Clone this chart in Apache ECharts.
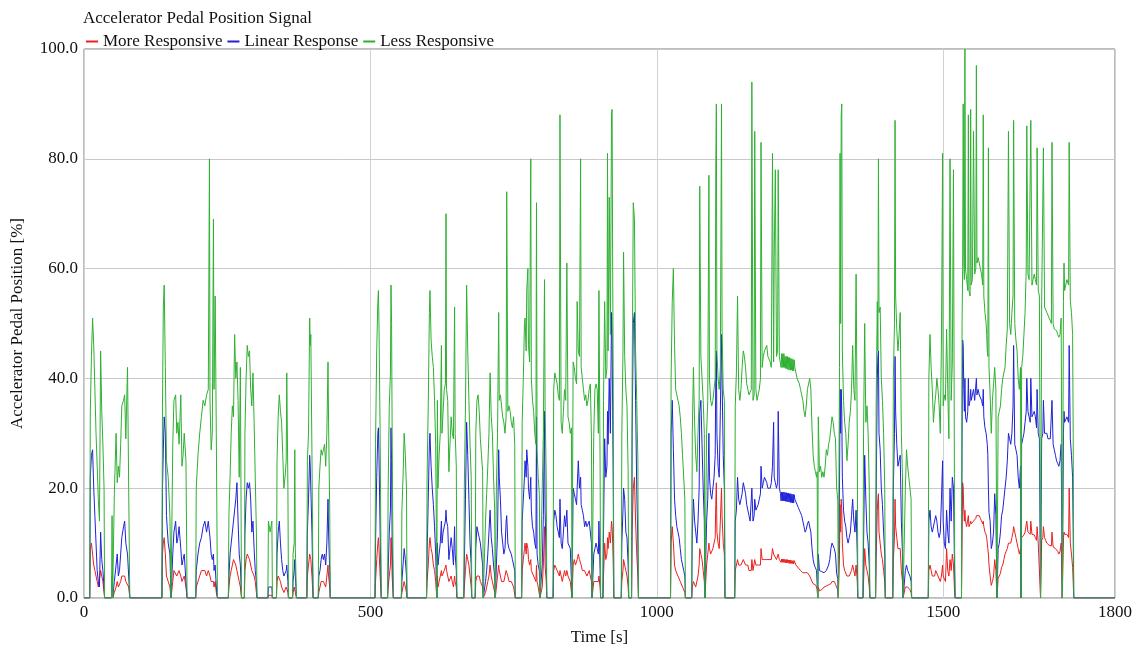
<!DOCTYPE html>
<html>
<head>
<meta charset="utf-8">
<title>Accelerator Pedal Position Signal</title>
<script src="https://cdn.jsdelivr.net/npm/echarts@6/dist/echarts.min.js"></script>
<style>
  html, body { margin: 0; padding: 0; background: #fff; }
  #chart { width: 1139px; height: 653px; }
</style>
</head>
<body>
<div id="chart"></div>
<script>
// time stamps [s], one line per pedal burst
const timeS = [
  0,
  10, 11, 13, 15, 17, 19, 21, 23, 25, 27, 29, 31, 33, 35, 36,
  48, 49, 50, 52, 53, 56, 58, 60, 62, 64, 66, 69, 71, 73, 76, 78, 80,
  136, 137, 138.5, 140, 142, 144, 147, 150, 152,
  154, 155, 157, 160, 162, 164, 166, 169, 171, 173, 175, 178, 180,
  195, 196, 199, 202, 205, 208, 211, 214, 217, 219, 220, 222, 224, 226, 227, 229, 231, 233,
  252, 253, 255, 257, 259, 261, 263, 265, 267, 269, 271, 273, 275,
  280, 281, 283, 285, 287, 289, 291, 293, 295, 297, 299, 301, 302,
  321, 322, 325, 328, 329,
  336, 337, 339, 341, 343, 345, 347, 349, 351, 353, 354, 356, 357,
  364, 365, 367, 368, 369, 371,
  389, 390, 392, 394, 395, 396, 398, 400,
  409, 410, 412, 414, 416, 418, 420, 422, 424, 426, 427, 429, 430,
  508, 509, 511, 513, 514, 515, 517, 519,
  530, 531, 533, 535, 536, 537, 538, 540,
  554, 555, 557, 559, 561, 563, 564,
  598, 599, 601, 603, 604, 606, 608, 610, 612, 614, 616,
  617, 618, 620, 622, 624, 625, 627, 629, 631, 632, 633, 635, 637, 639, 641, 643, 645, 647, 648, 650, 651,
  663, 664, 666, 668, 670, 672, 674, 676, 677,
  683, 684, 686, 688, 690, 692, 694, 696, 697,
  700, 701, 703, 705, 707, 709, 711, 713, 715, 717, 718,
  719, 720, 722, 724, 725, 727, 729, 731, 733, 735, 737, 738, 740, 742, 744, 746, 748, 750, 752, 753,
  764, 765, 767, 769, 770, 772, 773, 775, 776, 778, 780, 781, 783, 785, 787, 789, 790, 791, 793, 795, 796,
  799, 800, 802, 804, 805, 807, 808,
  819, 820, 822, 824, 826, 828, 830, 831, 833, 835, 837, 839, 841, 843, 845, 847, 849, 851, 852,
  853, 854, 856, 858, 860, 861, 863, 865, 867, 868, 870, 872, 874, 876, 878, 880, 882, 884, 886, 887,
  889, 890, 892, 894, 896, 898, 899, 901, 902,
  906, 907, 909, 911, 913, 914, 915, 917, 919, 921, 922, 923, 924, 925,
  938, 939, 941, 942, 944, 946, 948, 950, 951,
  956, 957, 959, 961, 963, 965, 967, 968,
  1024, 1025, 1027, 1029, 1031, 1033, 1035, 1037, 1039, 1041, 1043, 1045, 1047, 1049, 1050,
  1061, 1062, 1064, 1066, 1068, 1070, 1072, 1074, 1075, 1077, 1079, 1081, 1083, 1084,
  1086, 1087, 1089, 1091, 1092, 1094, 1096, 1098, 1100, 1102, 1103, 1104, 1105, 1107, 1109, 1111, 1113, 1114, 1116, 1118, 1119,
  1136, 1137, 1139, 1141, 1143, 1145, 1147, 1149, 1151, 1153, 1155, 1157, 1159, 1161, 1163, 1165, 1166, 1168, 1170, 1171, 1173, 1175, 1177, 1179, 1181, 1182, 1184, 1186, 1188, 1190, 1192, 1194, 1196, 1198, 1200, 1202, 1204, 1205, 1207, 1209, 1211, 1212, 1214,
  1216, 1217, 1218, 1219, 1220, 1221, 1222, 1223, 1224, 1225, 1226, 1227, 1228, 1229, 1230, 1231, 1232, 1233, 1234, 1235, 1236, 1237, 1238, 1239, 1240, 1241,
  1243, 1245, 1247, 1249, 1251, 1253, 1255, 1257, 1259, 1261, 1263, 1265, 1267, 1269, 1271, 1273, 1275, 1277, 1279, 1280, 1281, 1282, 1284, 1286, 1288, 1290, 1292, 1294, 1296, 1298, 1300, 1302, 1304, 1306, 1308, 1310, 1312, 1314, 1316, 1317,
  1318, 1319, 1320, 1321, 1322, 1323, 1324, 1326, 1328, 1330, 1332, 1334, 1336, 1338, 1340, 1342, 1344, 1346, 1348, 1350, 1351,
  1360, 1361, 1363, 1365, 1367, 1369, 1371, 1372,
  1382, 1383, 1385, 1386, 1387, 1388, 1390, 1392, 1394, 1396, 1398, 1399,
  1412, 1413, 1415, 1416, 1417, 1419, 1421, 1423, 1425, 1427, 1429, 1430, 1432, 1434, 1436, 1438, 1440, 1442, 1444, 1445,
  1474, 1475, 1477, 1479, 1481, 1483, 1485, 1487, 1489, 1491, 1493, 1495, 1497, 1499, 1500, 1502, 1504, 1506, 1508, 1510, 1512, 1514, 1516, 1518, 1520, 1521,
  1532, 1533, 1534, 1535, 1536, 1537, 1538, 1539, 1541, 1543, 1544, 1545, 1547, 1548, 1549, 1551, 1553, 1555, 1557, 1558, 1559, 1561, 1563, 1565, 1567, 1569, 1570, 1571, 1573, 1575, 1576, 1577,
  1578, 1579, 1580, 1582, 1584, 1586, 1588, 1590, 1592, 1594, 1596, 1598, 1600, 1602, 1604, 1606, 1608, 1610, 1612,
  1614, 1616, 1618, 1620, 1622, 1623, 1625, 1627, 1629, 1631, 1633, 1635,
  1636, 1637, 1639, 1641, 1643, 1645, 1646, 1648, 1650, 1652, 1653, 1655, 1657, 1659, 1661, 1663, 1664, 1666, 1668, 1670, 1672, 1674, 1675, 1677, 1679, 1681, 1683, 1685, 1687, 1689, 1690, 1692, 1694, 1696, 1698, 1700, 1702, 1704, 1706, 1708, 1710, 1711, 1712, 1714, 1716, 1718, 1719, 1720, 1722, 1724, 1726, 1727, 1728,
  1800
];

// pedal position [%] for each map
const moreResponsive = [
  0,
  0, 9, 10, 8, 6, 5, 4, 3, 2, 2, 5, 4, 3, 1, 0,
  0, 1, 0, 0, 1, 2, 3, 2, 2, 3, 4, 4, 4, 3, 3, 2, 0,
  0, 8, 10, 11, 8, 4, 3, 2, 0,
  0, 3, 5, 5, 4, 4, 5, 4, 3, 3, 4, 2, 0,
  0, 2, 3, 4, 5, 5, 5, 4, 5, 5, 4, 3, 3, 3, 2, 3, 1, 0,
  0, 2, 4, 5, 6, 7, 7, 6, 5, 4, 3, 2, 0,
  0, 5, 7, 8, 8, 7, 6, 5, 5, 4, 3, 1, 0,
  0, 0.5, 0.5, 0.5, 0,
  0, 3, 4, 4, 3, 2, 2, 1, 1, 2, 2, 1, 0,
  0, 1, 2, 2, 1, 0,
  0, 4, 6, 8, 8, 7, 4, 0,
  0, 1, 2, 3, 3, 3, 3, 2, 4, 6, 4, 2, 0,
  0, 3, 7, 10, 11, 9, 4, 0,
  0, 2, 4, 6, 11, 9, 4, 0,
  0, 1, 2, 3, 2, 1, 0,
  0, 3, 6, 10, 11, 9, 8, 6, 5, 3, 0,
  4, 2, 3, 4, 5, 4, 4, 5, 5, 6, 5, 5, 3, 3, 4, 3, 2, 4, 3, 2, 0,
  0, 2, 5, 8, 7, 6, 4, 2, 0,
  0, 3, 4, 4, 4, 3, 3, 2, 0,
  0, 1, 2, 3, 4, 6, 4, 3, 2, 1, 0,
  0, 2, 4, 6, 5, 4, 3, 3, 3, 3, 5, 5, 4, 3, 3, 3, 3, 2, 2, 0,
  0, 5, 7, 9, 10, 8, 10, 9, 7, 6, 7, 5, 5, 4, 4, 3, 6, 3, 2, 2, 0,
  0, 2, 6, 13, 6, 3, 0,
  0, 5, 6, 6, 5, 5, 4, 5, 4, 3, 4, 5, 4, 5, 4, 4, 3, 3, 0,
  0, 6, 7, 6, 6, 7, 8, 7, 7, 6, 5, 5, 5, 5, 4, 4, 5, 5, 3, 0,
  0, 3, 3, 3, 3, 3, 4, 2, 0,
  0, 4, 10, 7, 8, 11, 9, 12, 10, 14, 13, 10, 6, 0,
  0, 3, 5, 7, 7, 5, 4, 2, 0,
  0, 12, 20, 22, 14, 8, 4, 0,
  0, 10, 13, 10, 6, 5, 5, 4, 4, 3, 3, 2, 2, 1, 0,
  0, 2, 3, 3, 2, 2, 4, 6, 9, 9, 7, 5, 3, 0,
  0, 6, 8, 10, 9, 8, 8, 9, 9, 11, 17, 21, 12, 10, 9, 14, 20, 15, 10, 8, 0,
  0, 5, 6, 7, 6, 6, 6, 6, 7, 7, 6, 6, 6, 5, 5, 5, 7, 5, 5, 7, 6, 6, 6, 6, 6, 9, 7, 7, 7, 7, 7, 7, 7, 7, 7, 9, 8, 8, 8, 7, 7, 8, 7,
  7, 6.5, 7.1, 6.5, 7.1, 6.5, 7.1, 6.5, 7, 6.4, 7, 6.4, 7, 6.4, 6.9, 6.3, 6.9, 6.3, 6.9, 6.3, 6.8, 6.3, 6.8, 6.2, 6.8, 6.5,
  6, 5.8, 5.5, 5.2, 5, 4.8, 4.6, 4.5, 4.6, 4.7, 4.6, 4.4, 4, 3.5, 3, 2.6, 2.5, 2.4, 2, 1.5, 0, 2, 1.3, 1.4, 1.5, 1.8, 2, 2, 2.2, 2.2, 2.4, 2.5, 2.6, 3, 3.3, 3, 2.5, 2, 1.5, 0,
  0, 8, 17, 12, 18, 16, 10, 6, 5, 5, 4, 4, 4, 4, 5, 6, 5, 4, 6, 3, 0,
  0, 3, 9, 6, 5, 4, 2, 0,
  0, 7, 16, 18, 19, 12, 10, 8, 7, 5, 3, 0,
  0, 7, 11, 18, 13, 11, 9, 9, 9, 5, 3, 0, 0, 2, 2, 2, 2, 1.5, 1, 0,
  0, 5, 6, 5, 4, 4, 4, 5, 5, 4, 4, 3, 4, 6, 4, 4, 3, 9, 5, 4, 7, 5, 8, 6, 1, 0,
  0, 12, 21, 20, 16, 14, 16, 14, 13, 13, 15, 13, 13.5, 14, 13.5, 13.5, 14, 14, 14.5, 15, 15, 15, 15, 14.5, 14, 13.5, 14, 13, 12, 11.5, 11, 10,
  9, 8, 6, 4, 2.3, 3, 4, 7, 5, 0, 3.6, 4, 4.5, 5.6, 6, 7, 8, 8.5, 9,
  10, 10, 10, 11, 12, 13, 12, 11, 10, 9, 8, 9,
  0, 11, 11, 11.5, 12, 12, 14, 12, 12, 11.6, 14, 11.6, 11.6, 11.5, 11, 10.5, 13, 10, 10, 0, 10.5, 11, 13, 11, 10.5, 10, 9.8, 9.6, 9.5, 9.5, 12, 9.3, 9, 9, 9, 8.5, 8, 8.5, 10, 0, 11, 12, 11.6, 11.6, 11.6, 11.6, 11, 20, 10, 8, 5.6, 3, 0,
  0
];

const linearResponse = [
  0,
  0, 22, 26, 27, 20, 15, 10, 5, 3, 2, 12, 7, 5, 2, 0,
  0, 4, 0, 0, 3, 6, 8, 4, 5, 8, 11, 13, 14, 10, 8, 4, 0,
  0, 20, 27, 33, 30, 15, 10, 8, 0,
  0, 8, 12, 14, 10, 11, 13, 9, 6, 7, 8, 3, 0,
  0, 5, 8, 10, 11, 13, 14, 12, 14, 14, 11, 8, 7, 8, 5, 6, 2, 0,
  0, 4, 8, 10, 12, 14, 16, 18, 21, 14, 8, 6, 0,
  0, 12, 18, 21, 20, 21, 18, 12, 14, 9, 5, 3, 0,
  0, 2, 2, 2, 0,
  0, 8, 12, 14, 10, 7, 5, 4, 4, 5, 6, 3, 0,
  0, 3, 5, 7, 4, 0,
  0, 12, 18, 26, 24, 20, 12, 0,
  0, 4, 5, 7, 8, 7, 8, 6, 10, 18, 12, 5, 0,
  0, 10, 22, 30, 31, 26, 12, 0,
  0, 5, 12, 16, 31, 25, 10, 0,
  0, 3, 6, 9, 7, 4, 0,
  0, 8, 18, 28, 30, 24, 20, 17, 13, 8, 0,
  10, 6, 8, 10, 14, 10, 12, 13, 14, 16, 14, 13, 7, 9, 11, 9, 6, 13, 8, 5, 0,
  0, 6, 18, 32, 26, 18, 10, 6, 0,
  0, 9, 13, 13, 11, 10, 8, 6, 0,
  0, 3, 5, 8, 12, 16, 11, 9, 6, 4, 0,
  0, 6, 12, 27, 22, 18, 12, 10, 8, 9, 14, 15, 10, 9, 9, 8, 7, 6, 5, 0,
  0, 14, 18, 22, 25, 22, 27, 24, 20, 18, 22, 16, 13, 12, 10, 9, 33, 8, 6, 5, 0,
  0, 6, 15, 34, 16, 7, 0,
  0, 14, 16, 15, 13, 12, 11, 18, 10, 9, 12, 15, 13, 16, 10, 10, 9, 9, 0,
  0, 20, 19, 18, 17, 20, 25, 20, 22, 17, 16, 15, 13, 14, 13, 13, 14, 14, 10, 0,
  0, 8, 9, 10, 9, 8, 14, 5, 0,
  0, 12, 29, 22, 24, 34, 28, 40, 30, 52, 48, 34, 20, 0,
  0, 10, 16, 20, 18, 12, 11, 6, 0,
  0, 30, 50, 52, 36, 20, 10, 0,
  0, 30, 36, 27, 18, 15, 13, 12, 11, 9, 7, 6, 5, 4, 0,
  0, 12, 18, 14, 12, 10, 14, 20, 34, 36, 28, 20, 14, 0,
  0, 14, 18, 30, 22, 19, 18, 20, 22, 26, 40, 45, 30, 24, 22, 34, 48, 40, 26, 20, 0,
  0, 14, 16, 22, 18, 17, 18, 19, 21, 20, 19, 17, 16, 15, 14, 14, 20, 14, 15, 18, 16, 16, 17, 18, 19, 24, 20, 21, 22, 22, 21, 20, 20, 20, 21, 24, 32, 22, 21, 20, 21, 34, 20,
  19, 17.7, 19.3, 17.7, 19.3, 17.7, 19.3, 17.7, 19.2, 17.6, 19.2, 17.6, 19.1, 17.5, 19.1, 17.5, 19, 17.4, 19, 17.4, 18.9, 17.3, 18.9, 17.3, 18.8, 18,
  17.5, 17, 16.5, 16, 15.5, 15, 14, 13, 12, 12.5, 13.5, 14, 14, 12, 9, 7, 6, 5.5, 5, 5, 0, 8, 5, 5, 4.8, 4.7, 4.6, 4.6, 5, 5, 6, 7, 9, 10, 9.5, 9, 8, 4.5, 3.5, 0,
  0, 20, 38, 30, 38, 34, 22, 16, 14, 13, 11, 10, 11, 12, 15, 18, 14, 12, 16, 8, 0,
  0, 10, 26, 18, 12, 10, 6, 0,
  0, 18, 40, 44, 45, 30, 27, 20, 17, 12, 8, 0,
  0, 20, 30, 44, 34, 28, 24, 25, 26, 14, 8, 0, 0, 5, 6, 5, 5, 4, 3, 0,
  0, 14, 16, 13, 12, 12, 14, 15, 14, 12, 11, 12, 18, 25, 14, 10, 9, 16, 12, 10, 20, 14, 22, 20, 4, 0,
  0, 30, 47, 46, 38, 34, 40, 33, 32, 34, 40, 35, 36, 38, 36, 36, 38, 36, 36, 40, 37, 38, 37, 37, 36, 35, 38, 33, 31, 30, 29, 28,
  26, 20, 15.6, 14, 9, 10, 12, 19, 15, 0, 9, 10, 12, 15, 16, 18, 20, 22, 25,
  30, 29, 28, 30, 35, 46, 28, 27, 26, 22, 20, 24,
  0, 28, 29, 30, 32, 34, 40, 34, 33, 32, 40, 33, 33, 34, 33, 31, 38, 30, 29, 0, 29, 30, 36, 30, 30, 30, 29, 29, 29, 29, 36, 28, 27, 26, 25, 24.5, 24, 25, 28, 0, 30, 34, 32, 32, 33, 33, 32, 46, 29, 26, 22, 12, 0,
  0
];

const lessResponsive = [
  0,
  0, 34, 44, 51, 46, 38, 30, 24, 18, 14, 45, 34, 28, 20, 0,
  0, 15, 0, 0, 19, 30, 21, 24, 22, 28, 35, 36, 37, 29, 42, 20, 0,
  0, 35, 53, 57, 42, 25, 22, 15, 0,
  0, 28, 36, 37, 30, 32, 28, 37, 24, 26, 30, 25, 0,
  0, 20, 26, 30, 33, 36, 35, 37, 38, 80, 36, 27, 30, 69, 38, 55, 30, 0,
  0, 15, 22, 30, 35, 33, 48, 40, 43, 36, 22, 42, 0,
  0, 30, 40, 46, 44, 45, 38, 35, 41, 32, 22, 12, 0,
  0, 14, 12, 14, 0,
  0, 25, 33, 37, 34, 32, 26, 20, 22, 25, 41, 20, 0,
  0, 8, 10, 27, 9, 0,
  0, 25, 30, 51, 46, 48, 26, 0,
  0, 20, 24, 27, 26, 27, 28, 24, 30, 43, 32, 16, 0,
  0, 28, 45, 54, 56, 50, 30, 0,
  0, 20, 35, 41, 57, 50, 30, 0,
  0, 16, 22, 30, 26, 20, 0,
  0, 22, 35, 52, 56, 47, 44, 42, 36, 28, 0,
  36, 20, 26, 30, 46, 30, 34, 38, 39, 70, 38, 36, 23, 28, 33, 30, 29, 53, 30, 24, 0,
  0, 20, 35, 57, 45, 36, 28, 22, 0,
  0, 30, 36, 37, 34, 29, 26, 23, 0,
  0, 14, 19, 24, 30, 41, 33, 30, 22, 16, 0,
  0, 20, 30, 52, 36, 37, 35, 33, 32, 30, 33, 74, 34, 35, 34, 32, 31, 33, 28, 0,
  0, 32, 40, 50, 51, 45, 56, 60, 46, 43, 80, 40, 36, 34, 30, 28, 72, 27, 22, 19, 0,
  0, 20, 30, 58, 35, 22, 0,
  0, 38, 41, 40, 39, 37, 36, 88, 32, 30, 34, 38, 36, 61, 33, 32, 30, 31, 0,
  0, 43, 42, 40, 39, 54, 45, 44, 80, 42, 40, 38, 36, 37, 35, 36, 38, 39, 29, 0,
  0, 30, 38, 39, 38, 30, 56, 25, 0,
  0, 36, 54, 40, 42, 81, 45, 73, 48, 88, 89, 60, 38, 0,
  0, 30, 45, 63, 44, 38, 35, 23, 0,
  0, 40, 72, 69, 45, 36, 25, 0,
  0, 40, 54, 60, 46, 38, 37, 36, 35, 33, 30, 26, 22, 18, 0,
  0, 30, 42, 32, 26, 23, 30, 36, 75, 44, 40, 36, 30, 0,
  0, 30, 36, 77, 40, 36, 35, 36, 38, 40, 78, 90, 45, 40, 38, 42, 90, 49, 38, 36, 0,
  0, 35, 41, 55, 38, 36, 38, 42, 45, 44, 42, 39, 38, 37, 37, 38, 94, 36, 37, 85, 38, 36, 37, 38, 40, 83, 42, 44, 45, 45, 46, 44, 44, 43, 42, 81, 43, 62, 78, 44, 45, 78, 44,
  44, 42, 44.5, 42, 44.5, 42, 44.5, 42, 44, 41.8, 44, 41.8, 44, 41.6, 43.8, 41.6, 43.8, 41.5, 43.6, 41.5, 43.6, 41.4, 43.4, 41.4, 43.4, 42,
  41, 40, 40, 39, 38, 37, 36, 34, 33, 35, 38, 39, 40, 38, 31, 26, 24, 23, 22, 23, 0, 33, 23, 24, 22, 23, 22, 24, 27, 26, 28, 29, 31, 33, 32, 30, 29, 20, 18, 0,
  0, 42, 81, 50, 88, 90, 45, 36, 32, 30, 25, 28, 32, 34, 38, 46, 38, 36, 59, 30, 0,
  0, 30, 50, 32, 35, 30, 20, 0,
  0, 35, 54, 45, 80, 52, 53, 40, 36, 30, 20, 0,
  0, 40, 50, 87, 55, 49, 45, 48, 52, 30, 22, 0, 0, 20, 27, 24, 22, 20, 18, 0,
  0, 40, 48, 42, 38, 32, 35, 37, 40, 38, 35, 30, 47, 81, 35, 37, 36, 49, 38, 29, 80, 36, 43, 78, 9, 0,
  0, 50, 60, 90, 62, 58, 100, 60, 58, 56, 88, 56, 55, 89, 57, 58, 85, 59, 60, 97, 61, 62, 61, 60, 59, 57, 88, 55, 52, 50, 48, 45,
  44, 82, 42, 37, 30, 36, 39, 42, 38, 0, 33, 34, 35, 38, 40, 41, 42, 46, 49,
  85, 50, 48, 52, 55, 87, 50, 47, 45, 40, 38, 42,
  0, 42, 44, 48, 52, 60, 86, 59, 58, 58, 87, 57, 58, 59, 58, 57, 82, 56, 55, 0, 54, 54, 82, 53, 53, 52, 52, 51, 51, 50, 83, 50, 49, 49, 48.7, 48, 47.5, 48, 51, 0, 54, 61, 56, 57, 58, 58, 57, 83, 54, 52, 48, 30, 0,
  0
];

const serif = "'Liberation Serif', 'Times New Roman', serif";
const pairs = vals => timeS.map((t, i) => [t, vals[i]]);

var chartDom = document.getElementById('chart');
var myChart = echarts.init(chartDom);
var option;

option = {
  animation: false,
  backgroundColor: '#ffffff',
  title: {
    text: 'Accelerator Pedal Position Signal',
    left: 83,
    top: 10,
    padding: 0,
    textStyle: { fontFamily: serif, fontSize: 17, fontWeight: 'normal', color: '#111' }
  },
  legend: {
    left: 86,
    top: 33,
    padding: 0,
    itemGap: 5,
    itemWidth: 12,
    itemHeight: 2,
    icon: 'rect',
    textStyle: { fontFamily: serif, fontSize: 17, color: '#111' },
    data: ['More Responsive', 'Linear Response', 'Less Responsive']
  },
  grid: {
    left: 84,
    right: 24,
    top: 49,
    bottom: 55,
    show: true,
    borderColor: '#7a7a7a',
    borderWidth: 1
  },
  xAxis: {
    type: 'value',
    min: 0,
    max: 1800,
    interval: 500,
    name: 'Time [s]',
    nameLocation: 'middle',
    nameGap: 31,
    nameTextStyle: { fontFamily: serif, fontSize: 17, color: '#111' },
    axisLine: { show: false },
    axisTick: { show: false },
    axisLabel: {
      fontFamily: serif, fontSize: 17, color: '#111', margin: 6,
      formatter: v => String(v)
    },
    splitLine: { show: true, lineStyle: { color: '#d2d2d2', width: 1 } }
  },
  yAxis: {
    type: 'value',
    min: 0,
    max: 100,
    interval: 20,
    name: 'Accelerator Pedal Position [%]',
    nameLocation: 'middle',
    nameGap: 58,
    nameTextStyle: { fontFamily: serif, fontSize: 17, color: '#111' },
    axisLine: { show: false },
    axisTick: { show: false },
    axisLabel: {
      fontFamily: serif, fontSize: 17, color: '#111', margin: 6,
      formatter: v => v.toFixed(1)
    },
    splitLine: { show: true, lineStyle: { color: '#c8c8c8', width: 1 } }
  },
  series: [
    {
      name: 'More Responsive',
      type: 'line',
      showSymbol: false,
      color: '#e8221e',
      lineStyle: { width: 1 },
      data: pairs(moreResponsive)
    },
    {
      name: 'Linear Response',
      type: 'line',
      showSymbol: false,
      color: '#1f22d8',
      lineStyle: { width: 1 },
      data: pairs(linearResponse)
    },
    {
      name: 'Less Responsive',
      type: 'line',
      showSymbol: false,
      color: '#2fb032',
      lineStyle: { width: 1 },
      data: pairs(lessResponsive)
    }
  ]
};

option && myChart.setOption(option);
</script>
</body>
</html>
